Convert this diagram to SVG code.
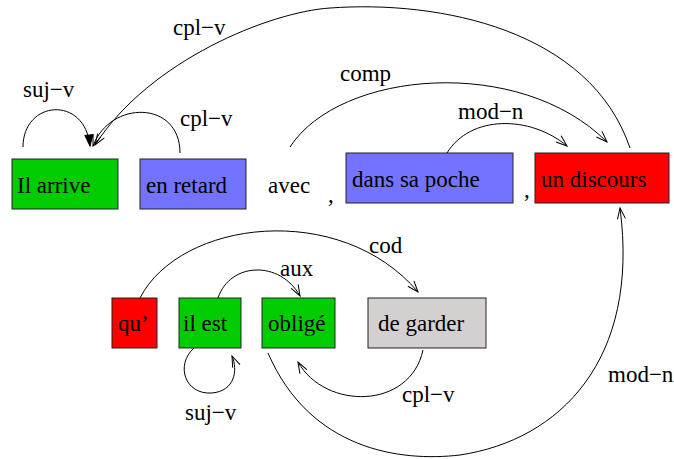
<svg xmlns="http://www.w3.org/2000/svg" width="674" height="459" viewBox="0 0 674 459">
<defs>
<style>
.box{stroke:#222;stroke-width:1}
.t{font-family:"Liberation Serif","Times New Roman",serif;font-size:23px;fill:#000}
.e{fill:none;stroke:#000;stroke-width:1}
</style>
<marker id="open" markerUnits="userSpaceOnUse" viewBox="-12 -6 14 12" refX="0" refY="0" markerWidth="14" markerHeight="12" orient="auto">
<path d="M-11,-4 L0,0 L-11,4" fill="none" stroke="#000" stroke-width="1"/>
</marker>
<marker id="solid" markerUnits="userSpaceOnUse" viewBox="-12 -6 14 12" refX="0" refY="0" markerWidth="14" markerHeight="12" orient="auto">
<path d="M-11,-4 L0,0 L-11,4 Z" fill="#000" stroke="#000" stroke-width="1"/>
</marker>
</defs>
<rect width="674" height="459" fill="#fff"/>

<g id="n-il-arrive"><rect class="box" x="12" y="159" width="106" height="50" fill="#00cc00"/><text class="t" x="17" y="193">Il arrive</text></g>
<g id="n-en-retard"><rect class="box" x="140" y="159" width="106" height="50" fill="#7373ff"/><text class="t" x="146" y="193">en retard</text></g>
<g id="n-avec"><text class="t" x="268" y="193">avec</text></g>
<g id="n-comma1"><text class="t" x="328" y="202">,</text></g>
<g id="n-dans-sa-poche"><rect class="box" x="346" y="153" width="167" height="50" fill="#7373ff"/><text class="t" x="352" y="187">dans sa poche</text></g>
<g id="n-comma2"><text class="t" x="524" y="197">,</text></g>
<g id="n-un-discours"><rect class="box" x="535" y="153" width="134" height="50" fill="#ff0000"/><text class="t" x="541" y="187">un discours</text></g>

<g id="n-qu"><rect class="box" x="112" y="298" width="45" height="50" fill="#ff0000"/><text class="t" x="118" y="331">qu’</text></g>
<g id="n-il-est"><rect class="box" x="179" y="298" width="62" height="50" fill="#00cc00"/><text class="t" x="183" y="331">il est</text></g>
<g id="n-oblige"><rect class="box" x="262" y="298" width="73" height="50" fill="#00cc00"/><text class="t" x="268" y="331">obligé</text></g>
<g id="n-de-garder"><rect class="box" x="368" y="298" width="118" height="50" fill="#d4d0d0"/><text class="t" x="378" y="331">de garder</text></g>

<g id="connectors">
<path class="e" d="M23,147 C23,100 85,95 90,146" marker-end="url(#solid)"/>
<path class="e" d="M180,153 C180,100 110,100 93,146" marker-end="url(#open)"/>
<path class="e" d="M630,148 C590,30 440,0 330,8 C270,12 150,60 95,145" marker-end="url(#open)"/>
<path class="e" d="M290,147 C340,70 520,55 607,142" marker-end="url(#open)"/>
<path class="e" d="M447,153 C470,115 530,115 567,146" marker-end="url(#open)"/>
<path class="e" d="M140,298 C180,220 340,200 418,292" marker-end="url(#open)"/>
<path class="e" d="M218,298 C230,262 280,260 300,296" marker-end="url(#open)"/>
<path class="e" d="M194,348 C175,365 185,395 212,393 C235,391 238,370 232,356" marker-end="url(#open)"/>
<path class="e" d="M423,350 C410,410 325,410 298,362" marker-end="url(#open)"/>
<path class="e" d="M268,353 C310,450 400,462 460,455 C560,440 640,360 620,208" marker-end="url(#open)"/>

<text class="t" x="23" y="97">suj−v</text>
<text class="t" x="180" y="126">cpl−v</text>
<text class="t" x="173" y="35">cpl−v</text>
<text class="t" x="340" y="81">comp</text>
<text class="t" x="458" y="119">mod−n</text>
<text class="t" x="369" y="253">cod</text>
<text class="t" x="280" y="276">aux</text>
<text class="t" x="185" y="420">suj−v</text>
<text class="t" x="402" y="402">cpl−v</text>
<text class="t" x="608" y="382">mod−n</text>
</g>
</svg>
